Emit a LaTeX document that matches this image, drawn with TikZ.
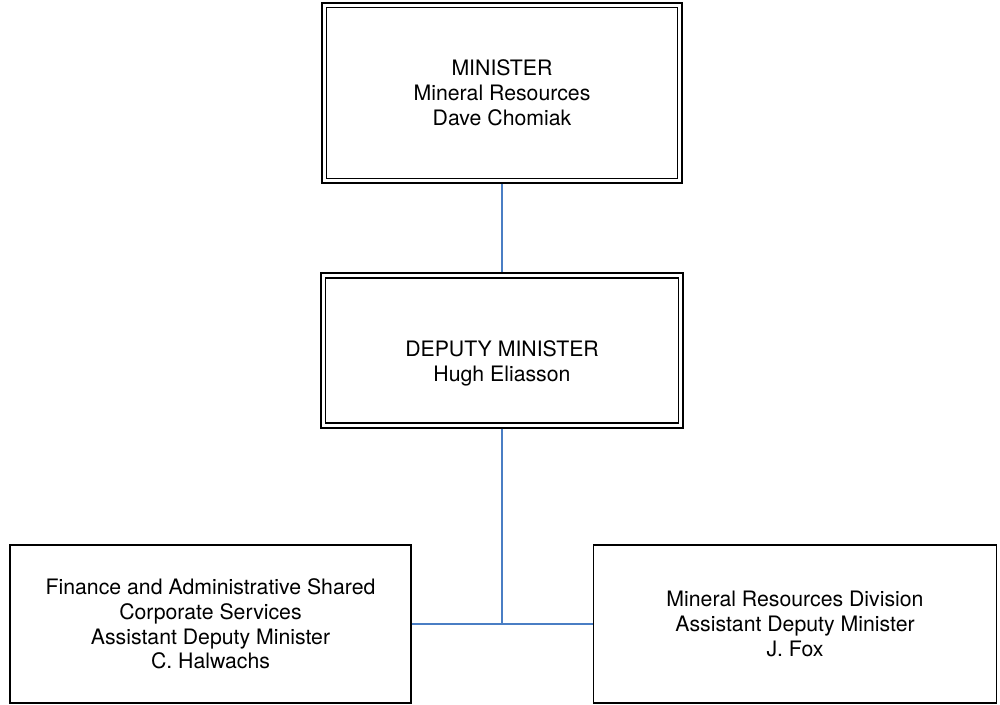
\documentclass[tikz,border=0pt]{standalone}
\usepackage{fontspec}
\setmainfont{TeX Gyre Heros}
\definecolor{linkblue}{RGB}{74,126,196}
\tikzset{
  dblbox/.style={draw, double, line width=0.035cm, double distance=0.06cm,
    outer sep=0.065cm, inner sep=0pt, align=center,
    font=\fontsize{12.1}{14.1}\selectfont},
  unitbox/.style={draw, line width=0.03cm, inner sep=0pt, align=center,
    font=\fontsize{12.1}{14.1}\selectfont},
  boxtext/.style={inner sep=0pt, align=center, font=\fontsize{12.1}{14.1}\selectfont},
  link/.style={draw=linkblue, line width=0.03cm}
}
\begin{document}
\begin{tikzpicture}[x=0.02cm, y=-0.02cm]
      \useasboundingbox (0, 0) rectangle (1000, 705);

      \node[dblbox, minimum width=7.12cm, minimum height=3.52cm] (minister) at (502, 93)
        {MINISTER\\Mineral Resources\\Dave Chomiak};

      \node[dblbox, minimum width=7.16cm, minimum height=3.0cm] (deputy) at (502, 350.5) {};
      \node[boxtext] (deputyname) at ([yshift=-0.25cm]deputy.center)
        {DEPUTY MINISTER\\Hugh Eliasson};

      \node[unitbox, minimum width=8.03cm, minimum height=3.16cm] (finance) at (210.5, 624)
        {Finance and Administrative Shared\\Corporate Services\\Assistant Deputy Minister\\C. Halwachs};

      \node[unitbox, minimum width=8.07cm, minimum height=3.16cm] (division) at (795, 624)
        {Mineral Resources Division\\Assistant Deputy Minister\\J. Fox};

      % 線をひく
      \coordinate (junc) at (deputy.south |- finance.east);
      \draw[link] (minister.south) -- (deputy.north);
      \draw[link] (deputy.south) -- (junc);
      \draw[link] (finance.east) -- (division.west);
  \end{tikzpicture}
\end{document}
